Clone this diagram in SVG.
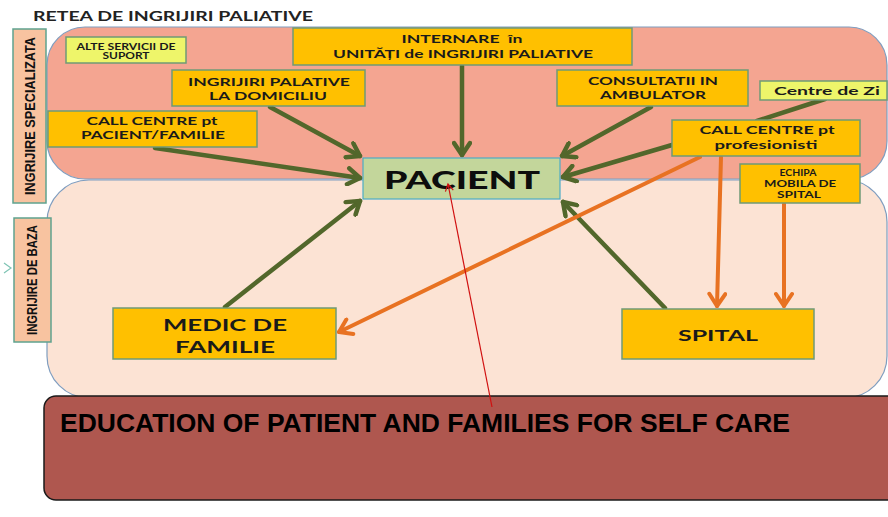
<svg xmlns="http://www.w3.org/2000/svg" width="888" height="517" viewBox="0 0 888 517">
<defs>
<style>
.t{font-family:Lato,"Open Sans","Liberation Sans",sans-serif;font-weight:700;fill:#1a1a1a;text-anchor:middle}
.n{font-family:"Liberation Sans",Arial,sans-serif;font-weight:700;fill:#111;text-anchor:middle}
.box{fill:#FFC000;stroke:#6F9A76;stroke-width:1.5}
.lt{fill:#EEF56A;stroke:#6F9A76;stroke-width:1.5}
.g{stroke:#52672B;stroke-width:4.5;fill:none;stroke-linecap:round}
.o{stroke:#E87222;stroke-width:4;fill:none;stroke-linecap:round}
.side{fill:#F8C3A0;stroke:#5FA38F;stroke-width:1.5}
</style>
<marker id="ag" markerUnits="userSpaceOnUse" markerWidth="20" markerHeight="20" refX="15" refY="10" orient="auto">
<path d="M3,2 L15,10 L3,18" fill="none" stroke="#52672B" stroke-width="4.5" stroke-linecap="round" stroke-linejoin="round"/>
</marker>
<marker id="ao" markerUnits="userSpaceOnUse" markerWidth="20" markerHeight="20" refX="15" refY="10" orient="auto">
<path d="M3,2 L15,10 L3,18" fill="none" stroke="#E87222" stroke-width="4" stroke-linecap="round" stroke-linejoin="round"/>
</marker>
<marker id="ar" markerUnits="userSpaceOnUse" markerWidth="12" markerHeight="12" refX="9" refY="6" orient="auto">
<path d="M2,2 L9,6 L2,10" fill="none" stroke="#D01010" stroke-width="1.2"/>
</marker>
</defs>
<rect width="888" height="517" fill="#FFFFFF"/>
<g id="regions">
<rect x="47" y="27" width="840" height="152" rx="38" fill="#F4A591" stroke="#7F9DBF" stroke-width="1.2"/>
<rect x="47" y="180" width="840" height="218" rx="42" fill="#FCE3D4" stroke="#7F9DBF" stroke-width="1.2"/>
</g>
<text x="33" y="21" style="font-family:Lato,'Open Sans','Liberation Sans',sans-serif;font-weight:700;font-size:14px;fill:#222" textLength="280" lengthAdjust="spacingAndGlyphs">RETEA DE INGRIJIRI PALIATIVE</text>
<g id="side-specializata">
<rect class="side" x="13" y="29" width="33" height="174"/>
<text class="n" transform="translate(35,116) rotate(-90)" style="font-size:15px;fill:#111" textLength="158" lengthAdjust="spacingAndGlyphs">INGRIJIRE SPECIALIZATA</text>
</g>
<g id="side-baza">
<rect class="side" x="14" y="218" width="37" height="124"/>
<text class="n" transform="translate(37,280) rotate(-90)" style="font-size:15px;fill:#111" textLength="110" lengthAdjust="spacingAndGlyphs">INGRIJIRE DE BAZA</text>
<path d="M4,263 L11,268 L4,273" fill="none" stroke="#7FC4B4" stroke-width="1.2"/>
</g>
<g id="connectors">
<line class="g" x1="270" y1="107" x2="360" y2="156" marker-end="url(#ag)"/>
<line class="g" x1="155" y1="148" x2="360" y2="178" marker-end="url(#ag)"/>
<line class="g" x1="225" y1="307" x2="360" y2="201" marker-end="url(#ag)"/>
<line class="g" x1="462" y1="66" x2="462" y2="155" marker-end="url(#ag)"/>
<line class="g" x1="651" y1="107" x2="562" y2="156" marker-end="url(#ag)"/>
<line class="g" x1="672" y1="145" x2="563" y2="177" marker-end="url(#ag)"/>
<line class="g" x1="825" y1="99" x2="757" y2="121"/>
<line class="g" x1="665" y1="308" x2="563" y2="202" marker-end="url(#ag)"/>
<line class="o" x1="700" y1="157" x2="339" y2="332" marker-end="url(#ao)"/>
<line class="o" x1="721" y1="157" x2="717" y2="306" marker-end="url(#ao)"/>
<line class="o" x1="784" y1="204" x2="784" y2="306" marker-end="url(#ao)"/>
</g>
<g id="alte-servicii">
<rect class="lt" x="66" y="37" width="120" height="26"/>
<text class="t" x="126" y="49.5" style="font-size:8.5px" textLength="99" lengthAdjust="spacingAndGlyphs">ALTE SERVICII DE</text>
<text class="t" x="126" y="59" style="font-size:8.5px" textLength="47" lengthAdjust="spacingAndGlyphs">SUPORT</text>
</g>
<g id="internare">
<rect class="box" x="293" y="28" width="339" height="37"/>
<text class="t" x="462" y="43" style="font-size:11.5px" xml:space="preserve" textLength="121" lengthAdjust="spacingAndGlyphs">INTERNARE  în</text>
<text class="t" x="463" y="58" style="font-size:11.5px" textLength="260" lengthAdjust="spacingAndGlyphs">UNITĂȚI de INGRIJIRI PALIATIVE</text>
</g>
<g id="domiciliu">
<rect class="box" x="172" y="70" width="193" height="36"/>
<text class="t" x="269" y="86" style="font-size:12px" textLength="162" lengthAdjust="spacingAndGlyphs">INGRIJIRI PALATIVE</text>
<text class="t" x="268" y="100" style="font-size:12px" textLength="118" lengthAdjust="spacingAndGlyphs">LA DOMICILIU</text>
</g>
<g id="consultatii">
<rect class="box" x="557" y="70" width="191" height="36"/>
<text class="t" x="653" y="85" style="font-size:12px" textLength="130" lengthAdjust="spacingAndGlyphs">CONSULTATII IN</text>
<text class="t" x="653" y="99" style="font-size:12px" textLength="106" lengthAdjust="spacingAndGlyphs">AMBULATOR</text>
</g>
<g id="centre-zi">
<rect class="lt" x="760" y="81" width="127" height="19"/>
<text class="t" x="827" y="95" style="font-size:12px" textLength="106" lengthAdjust="spacingAndGlyphs">Centre de Zi</text>
</g>
<g id="call-pacient">
<rect class="box" x="48" y="111" width="209" height="36"/>
<text class="t" x="152" y="125" style="font-size:12px" textLength="131" lengthAdjust="spacingAndGlyphs">CALL CENTRE pt</text>
<text class="t" x="153" y="139" style="font-size:12px" textLength="144" lengthAdjust="spacingAndGlyphs">PACIENT/FAMILIE</text>
</g>
<g id="call-profesionisti">
<rect class="box" x="672" y="120" width="188" height="36"/>
<text class="t" x="767" y="134" style="font-size:12px" textLength="135" lengthAdjust="spacingAndGlyphs">CALL CENTRE pt</text>
<text class="t" x="766" y="149" style="font-size:12px" textLength="103" lengthAdjust="spacingAndGlyphs">profesionisti</text>
</g>
<g id="pacient">
<rect x="363" y="158" width="197" height="41" fill="#C3D69B" stroke="#4BACC6" stroke-width="1.2"/>
<text class="t" x="462" y="189" style="font-size:25px;fill:#0d0d0d;font-weight:900" textLength="156" lengthAdjust="spacingAndGlyphs">PACIENT</text>
</g>
<g id="echipa">
<rect class="box" x="740" y="164" width="120" height="39"/>
<text class="t" x="798" y="176" style="font-size:8.5px" textLength="37" lengthAdjust="spacingAndGlyphs">ECHIPA</text>
<text class="t" x="800" y="187" style="font-size:8.5px" textLength="72" lengthAdjust="spacingAndGlyphs">MOBILA DE</text>
<text class="t" x="799" y="198" style="font-size:8.5px" textLength="44" lengthAdjust="spacingAndGlyphs">SPITAL</text>
</g>
<g id="medic">
<rect class="box" x="113" y="308" width="223" height="51"/>
<text class="t" x="225" y="331" style="font-size:17px" textLength="124" lengthAdjust="spacingAndGlyphs">MEDIC DE</text>
<text class="t" x="225" y="353" style="font-size:17px" textLength="100" lengthAdjust="spacingAndGlyphs">FAMILIE</text>
</g>
<g id="spital">
<rect class="box" x="622" y="309" width="192" height="50"/>
<text class="t" x="718" y="341" style="font-size:16px" textLength="80" lengthAdjust="spacingAndGlyphs">SPITAL</text>
</g>
<g id="education">
<rect x="44" y="396" width="860" height="104" rx="12" fill="#AF574F" stroke="#1a1a1a" stroke-width="1.5"/>
<text x="60" y="432" style="font-family:'Liberation Sans',Arial,sans-serif;font-weight:700;font-size:25px;fill:#000" textLength="730" lengthAdjust="spacingAndGlyphs">EDUCATION OF PATIENT AND FAMILIES FOR SELF CARE</text>
</g>
<g id="education-link">
<line x1="492" y1="407" x2="448" y2="184" stroke="#D01010" stroke-width="1.2" marker-end="url(#ar)"/>
</g>
</svg>
